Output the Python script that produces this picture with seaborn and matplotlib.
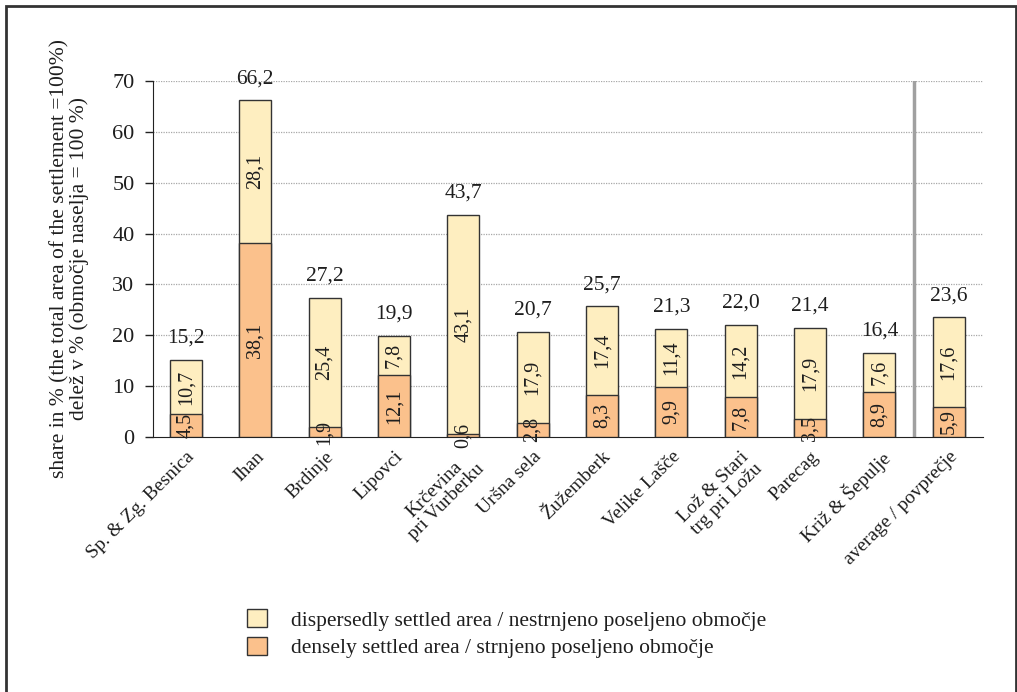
import seaborn as sns
import matplotlib.pyplot as plt
import pandas as pd
from matplotlib.patches import Rectangle, Patch

# data
settlements = ["Sp. & Zg. Besnica", "Ihan", "Brdinje", "Lipovci",
               "Krčevina\npri Vurberku", "Uršna sela", "Žužemberk",
               "Velike Lašče", "Lož & Stari\ntrg pri Ložu", "Parecag",
               "Križ & Šepulje", "average / povprečje"]
dense = [4.5, 38.1, 1.9, 12.1, 0.6, 2.8, 8.3, 9.9, 7.8, 3.5, 8.9, 5.9]
dispersed = [10.7, 28.1, 25.4, 7.8, 43.1, 17.9, 17.4, 11.4, 14.2, 17.9, 7.6, 17.6]
total_labels = ["15,2", "66,2", "27,2", "19,9", "43,7", "20,7", "25,7",
                "21,3", "22,0", "21,4", "16,4", "23,6"]

dense_lab = "densely settled area / strnjeno poseljeno območje"
disp_lab = "dispersedly settled area / nestrnjeno poseljeno območje"
c_disp = "#FEEEC0"
c_dense = "#FBC18C"

df = pd.DataFrame({"settlement": settlements, "dense": dense, "dispersed": dispersed})
df["total"] = df["dense"] + df["dispersed"]

sns.set_style("white")
plt.rcParams["font.family"] = ["Liberation Serif", "DejaVu Serif"]

fig = plt.figure(figsize=(10.17, 6.92), dpi=100)
ax = fig.add_axes([0.150, 0.3685, 0.817, 0.5145])

# stacked bars: total first, dense part drawn on top
sns.barplot(data=df, x="settlement", y="total", color=c_disp, width=0.46,
            edgecolor="#333333", linewidth=1, saturation=1, ax=ax, zorder=3)
sns.barplot(data=df, x="settlement", y="dense", color=c_dense, width=0.46,
            edgecolor="#333333", linewidth=1, saturation=1, ax=ax, zorder=4)

txt = "#1e1e1e"
for i in range(len(settlements)):
    d = dense[i]
    s = dispersed[i]
    ax.text(i, d / 2, f"{d:.1f}".replace(".", ","), rotation=90,
            ha="center", va="center", fontsize=14.5, color=txt,
            zorder=5, clip_on=False)
    ax.text(i, d + s / 2, f"{s:.1f}".replace(".", ","), rotation=90,
            ha="center", va="center", fontsize=14.5, color=txt, zorder=5)
    ax.text(i, d + s + 2.4, total_labels[i], ha="center", va="bottom",
            fontsize=15.5, color=txt)

ax.set_xlim(-0.48, 11.5)
ax.set_ylim(0, 70)
ax.set_yticks(range(0, 71, 10))
ax.tick_params(axis="y", direction="out", length=6, width=1, color="#222222",
               labelsize=16, labelcolor=txt, pad=7, left=True)
ax.tick_params(axis="x", length=0, pad=8, labelcolor=txt)
ax.set_xticks(range(len(settlements)))
ax.set_xticklabels(settlements, rotation=45, ha="right", rotation_mode="anchor",
                   fontsize=14, multialignment="center", linespacing=1.05)

for y in range(10, 71, 10):
    ax.axhline(y, color="#a8a8a8", linestyle=(0, (1, 1)), linewidth=0.9, zorder=1)
ax.axvline(10.5, color="#A0A0A0", linewidth=2.5, zorder=2)

sns.despine(ax=ax, top=True, right=True)
ax.spines["left"].set_color("#222222")
ax.spines["bottom"].set_color("#222222")
ax.set_xlabel("")
ax.set_ylabel("share in % (the total area of the settlement =100%)\n"
              "delež v % (območje naselja = 100 %)", fontsize=15.5,
              color=txt, linespacing=0.95, labelpad=17)

handles = [Patch(facecolor=c_disp, edgecolor="#333333", label=disp_lab),
           Patch(facecolor=c_dense, edgecolor="#333333", label=dense_lab)]
fig.legend(handles=handles, loc="upper left", bbox_to_anchor=(0.234, 0.132),
           frameon=False, fontsize=15.5, handlelength=0.95, handleheight=0.9,
           handletextpad=1.1, labelspacing=0.3, borderaxespad=0,
           labelcolor=txt)

# frame around the whole figure
fig.patches.append(Rectangle((0.006, -0.05), 0.993, 1.041, transform=fig.transFigure,
                             fill=False, edgecolor="#333333", linewidth=2))

fig.savefig("out.png", dpi=100)
